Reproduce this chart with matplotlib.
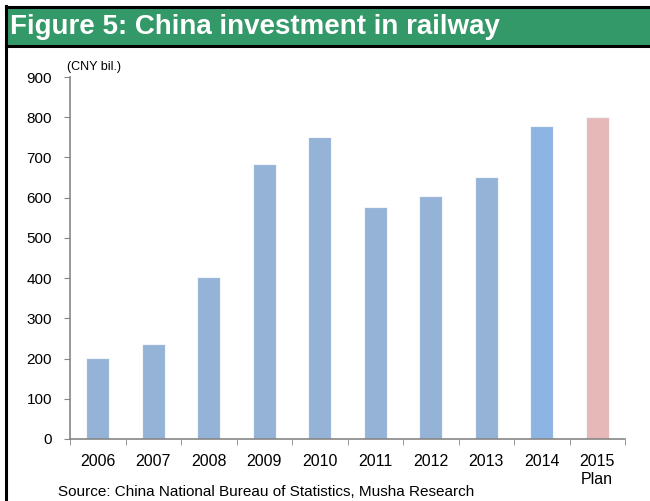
import matplotlib
matplotlib.use("Agg")
import matplotlib.pyplot as plt
from matplotlib.patches import Rectangle
from matplotlib.lines import Line2D
import numpy as np

plt.rcParams["font.family"] = ["Liberation Sans", "DejaVu Sans"]

# data (CNY bil.)
years = ["2006", "2007", "2008", "2009", "2010", "2011", "2012", "2013", "2014", "2015\nPlan"]
invest = [202, 237, 402, 684, 750, 576, 605, 652, 779, 800]
colors = ["#95b3d7"] * 8 + ["#8db4e2", "#e6b9b8"]

fig = plt.figure(figsize=(6.5, 5.01), dpi=100)

# header band + frame lines
fig.patches.append(Rectangle((6 / 650, 1 - 45 / 501), 1, 37 / 501, transform=fig.transFigure,
                             facecolor="#349968", edgecolor="none", zorder=0))
fig.lines.append(Line2D([6 / 650, 1], [1 - 7 / 501] * 2, transform=fig.transFigure, color="black", lw=2.2))
fig.lines.append(Line2D([6 / 650, 1], [1 - 45.5 / 501] * 2, transform=fig.transFigure, color="black", lw=2.2))
fig.lines.append(Line2D([6 / 650] * 2, [0, 1 - 6 / 501], transform=fig.transFigure, color="black", lw=2.2))
fig.text(10 / 650, 1 - 27 / 501, "Figure 5: China investment in railway", color="white",
         fontsize=20, fontweight="bold", va="center", ha="left")

ax = fig.add_axes([70 / 650, 62 / 501, 555 / 650, 362 / 501])
x = np.arange(len(years))
ax.bar(x, invest, width=0.41, color=colors, edgecolor="#f2f5fa", linewidth=0.8)

ax.set_xlim(-0.5, len(years) - 0.5)
ax.set_ylim(0, 900)
ax.set_yticks(np.arange(0, 901, 100))
ax.set_xticks(x)
ax.set_xticklabels(years)
ax.set_xticks(np.arange(-0.5, len(years), 1), minor=True)
ax.tick_params(axis="x", which="major", length=0, pad=11, labelsize=11.5)
ax.tick_params(axis="x", which="minor", length=4, direction="out", color="#868686")
ax.tick_params(axis="y", length=4, direction="out", color="#868686", pad=9, labelsize=11)
for s in ["top", "right"]:
    ax.spines[s].set_visible(False)
for s in ["left", "bottom"]:
    ax.spines[s].set_color("#868686")
    ax.spines[s].set_linewidth(1.2)

fig.text(67 / 650, 1 - 67 / 501, "(CNY bil.)", fontsize=9, va="center", ha="left")
fig.text(58 / 650, 1 - 492 / 501, "Source: China National Bureau of Statistics, Musha Research",
         fontsize=11, va="center", ha="left")

fig.savefig("out.png", dpi=100)
